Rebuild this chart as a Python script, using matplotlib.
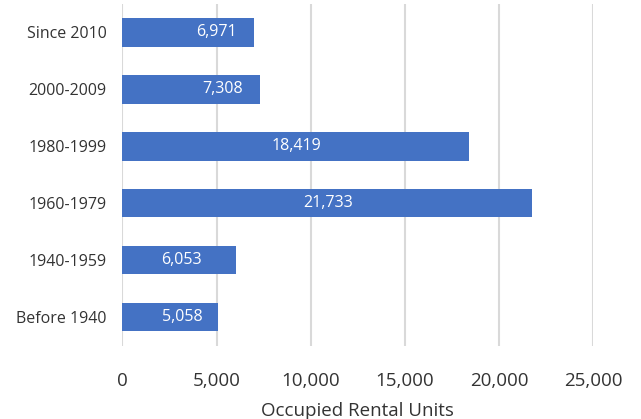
import matplotlib
matplotlib.use("Agg")
import matplotlib.pyplot as plt
from matplotlib.ticker import FuncFormatter

categories = ["Before 1940", "1940-1959", "1960-1979", "1980-1999", "2000-2009", "Since 2010"]
values = [5058, 6053, 21733, 18419, 7308, 6971]
label_x = [3160, 3110, 10900, 9240, 5340, 4970]
xticks = [0, 5000, 10000, 15000, 20000, 25000]

plt.rcParams['font.family'] = ['Open Sans', 'DejaVu Sans']

fig = plt.figure(figsize=(6.41, 4.19), dpi=100)
ax = fig.add_axes([0.1911, 0.1754, 0.734, 0.8151])

ypos = list(range(len(categories)))
ax.barh(ypos, values, height=0.5, color="#4472C4", zorder=3)
for y, v, lx in zip(ypos, values, label_x):
    ax.text(lx, y, f"{v:,}", color="white", ha="center", va="center",
            fontsize=11.5, zorder=4)

ax.set_xlim(0, 25000)
ax.set_ylim(-0.5, len(categories) - 0.5)
ax.set_xticks(xticks)
ax.xaxis.set_major_formatter(FuncFormatter(lambda x, p: f"{int(x):,}"))
ax.set_yticks(ypos)
ax.set_yticklabels(categories)
ax.tick_params(axis="both", length=0, colors="#333333")
ax.tick_params(axis="x", labelsize=13.5, pad=19)
ax.tick_params(axis="y", labelsize=11.5, pad=11.5)
ax.grid(axis="x", color="#D9D9D9", linewidth=1.5, zorder=0)
ax.grid(axis="y", visible=False)
for s in ax.spines.values():
    s.set_visible(False)
ax.set_xlabel("Occupied Rental Units", fontsize=13.5, color="#333333", labelpad=9)

fig.savefig("out.png", dpi=100)
